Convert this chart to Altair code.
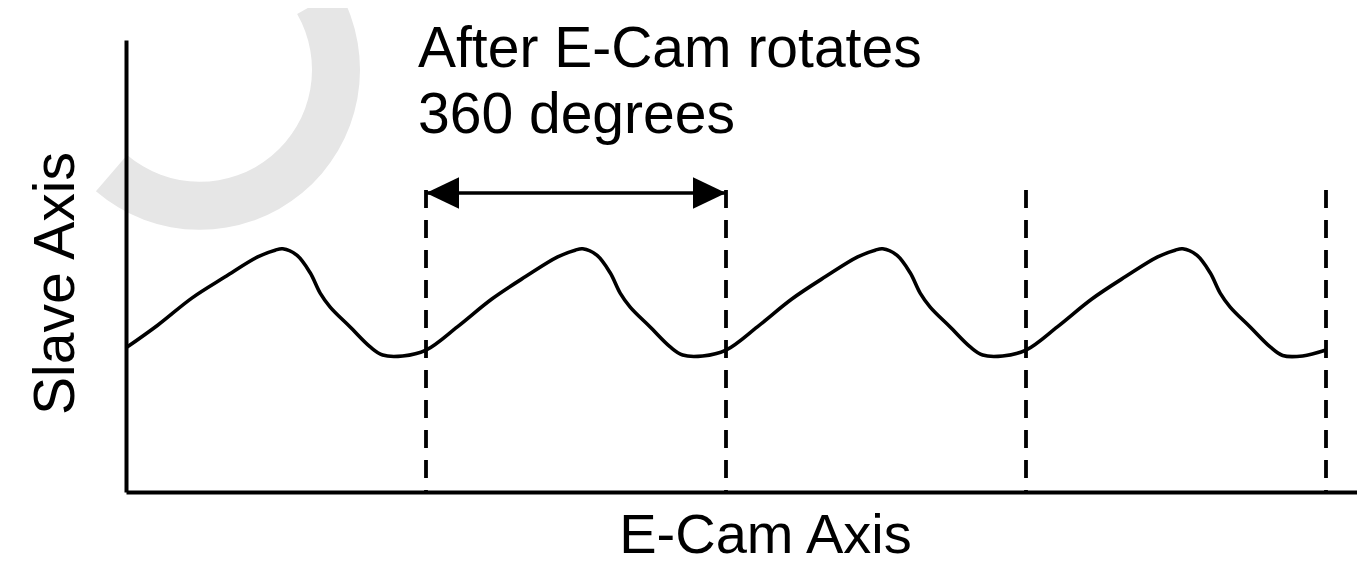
import altair as alt
import pandas as pd

# ---- data ----
# E-Cam angle (degrees) and slave axis position (arbitrary units 0-100)
cam_deg = [
    0, 38, 79, 119, 158, 179, 188, 205, 221, 233, 245, 269, 293, 308, 332, 360,
    398, 439, 479, 518, 539, 548, 565, 581, 593, 605, 629, 653, 668, 692, 720,
    758, 799, 839, 878, 899, 908, 925, 941, 953, 965, 989, 1013, 1028, 1052, 1080,
    1118, 1159, 1199, 1238, 1259, 1268, 1285, 1301, 1313, 1325, 1349, 1373, 1388, 1412, 1440,
]
slave_pos = [
    31.9, 36.9, 42.9, 47.6, 52.0, 53.5, 53.8, 52.4, 48.5, 44.0, 40.9, 36.5, 32.1, 30.3, 30.1, 31.4,
    36.6, 42.7, 47.6, 52.0, 53.5, 53.8, 52.4, 48.5, 44.0, 40.9, 36.5, 32.1, 30.3, 30.1, 31.4,
    36.6, 42.7, 47.6, 52.0, 53.5, 53.8, 52.4, 48.5, 44.0, 40.9, 36.5, 32.1, 30.3, 30.1, 31.4,
    36.6, 42.7, 47.6, 52.0, 53.5, 53.8, 52.4, 48.5, 44.0, 40.9, 36.5, 32.1, 30.2, 30.1, 31.4,
]
rotation_marks = [360, 720, 1080, 1440]
dash_top = 66.8
arrow_start = 360
arrow_end = 720
arrow_level = 66.15
note_lines = ["After E-Cam rotates", "360 degrees"]
note_x = [350.4, 350.4]
note_y = [94.0, 79.4]
x_title = "E-Cam Axis"
y_title = "Slave Axis"

X_MAX = 1477.2
x_scale = alt.Scale(domain=[0, X_MAX], nice=False, zero=False)
y_scale = alt.Scale(domain=[0, 100], nice=False, zero=False)
FONT = "Liberation Sans"

x_axis = alt.Axis(
    title=x_title, ticks=False, labels=False, grid=False,
    domainColor="black", domainWidth=4,
    titleFont=FONT, titleFontSize=56, titleFontWeight="normal", titleColor="black",
    titleX=639, titleY=60, titleAlign="center", titleBaseline="alphabetic", zindex=1,
)
y_axis = alt.Axis(
    title=y_title, ticks=False, labels=False, grid=False,
    domainColor="black", domainWidth=4,
    titleFont=FONT, titleFontSize=57, titleFontWeight="normal", titleColor="black",
    titleX=-53, titleY=243, titleAngle=270, titleAlign="center",
    titleBaseline="alphabetic", zindex=1,
)

curve_df = pd.DataFrame({"deg": cam_deg, "pos": slave_pos})
rules_df = pd.DataFrame({"deg": rotation_marks, "top": [dash_top] * len(rotation_marks)})
arrow_df = pd.DataFrame({"deg": [arrow_start], "x2": [arrow_end], "pos": [arrow_level]})
head_l_df = pd.DataFrame({"deg": [arrow_start], "pos": [arrow_level]})
head_r_df = pd.DataFrame({"deg": [arrow_end], "pos": [arrow_level]})
note_df = pd.DataFrame({"deg": note_x, "pos": note_y, "t": note_lines})
mark_df = pd.DataFrame({"deg": [88.8], "pos": [93.4]})

X = alt.X("deg:Q", scale=x_scale, axis=x_axis)
Y = alt.Y("pos:Q", scale=y_scale, axis=y_axis)

# faint watermark arc (background)
watermark = alt.Chart(mark_df).mark_arc(
    theta=1.05, theta2=3.85, innerRadius=112, outerRadius=160, color="#e6e6e6"
).encode(x=X, y=Y)

curve = alt.Chart(curve_df).mark_line(
    color="black", strokeWidth=3.6, interpolate="catmull-rom"
).encode(x=X, y=Y)

rules = alt.Chart(rules_df).mark_rule(
    color="black", strokeWidth=3.8, strokeDash=[18, 12]
).encode(
    x=X,
    y=alt.Y("top:Q", scale=y_scale, axis=y_axis),
    y2=alt.datum(0),
)

arrow = alt.Chart(arrow_df).mark_rule(color="black", strokeWidth=3.5).encode(
    x=X, x2="x2:Q", y=Y,
)

head_l = alt.Chart(head_l_df).mark_point(
    shape="M0,0L2,-0.95L2,0.95Z", size=1089, filled=True, color="black",
    opacity=1, strokeWidth=0,
).encode(x=X, y=Y)

head_r = alt.Chart(head_r_df).mark_point(
    shape="M0,0L-2,-0.95L-2,0.95Z", size=1089, filled=True, color="black",
    opacity=1, strokeWidth=0,
).encode(x=X, y=Y)

note = alt.Chart(note_df).mark_text(
    font=FONT, fontSize=57, align="left", baseline="alphabetic", color="black"
).encode(x=X, y=Y, text="t:N")

chart = alt.layer(watermark, curve, rules, arrow, head_l, head_r, note).properties(
    width=1231,
    height=452,
    padding={"left": 118, "top": 32, "right": 0, "bottom": 73},
    autosize=alt.AutoSizeParams(type="none"),
    background="white",
).configure_view(stroke=None)

chart.save("out.html", embed_options={"renderer": "svg", "actions": False})
